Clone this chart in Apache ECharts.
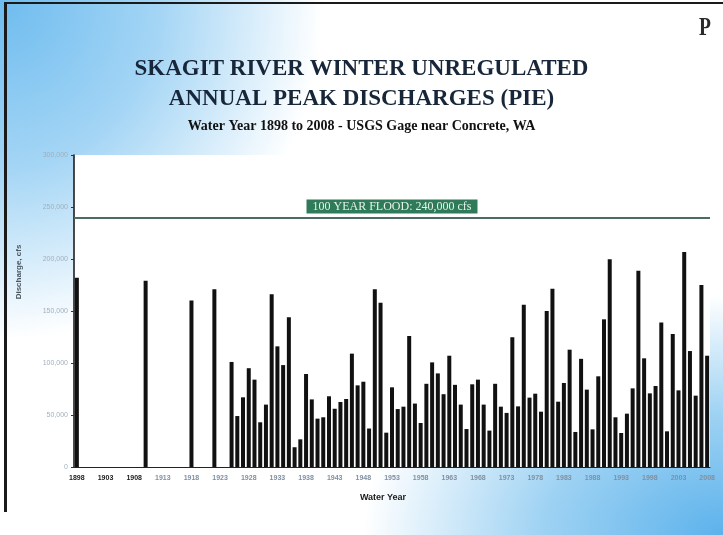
<!DOCTYPE html>
<html>
<head>
<meta charset="utf-8">
<title>Skagit River Winter Unregulated Annual Peak Discharges</title>
<script src="https://cdn.jsdelivr.net/npm/echarts@6/dist/echarts.min.js"></script>
<style>
  html, body { margin: 0; padding: 0; }
  body {
    width: 723px; height: 535px; overflow: hidden; position: relative;
    background:
      radial-gradient(ellipse 380px 400px at 0 0, #6ebcef 0%, #a4d5f5 42%, rgba(255,255,255,0) 85%),
      radial-gradient(ellipse 360px 240px at 100% 100%, #5cb2ec 0%, #9ed2f3 50%, rgba(255,255,255,0) 100%),
      #ffffff;
  }
  #chart { width: 723px; height: 535px; }
  .frame {
    position: absolute; left: 4px; top: 2px; width: 719px; height: 508px;
    border-left: 3px solid #1a1a1a; border-top: 2px solid #1a1a1a;
    pointer-events: none;
  }
</style>
</head>
<body>
<div id="chart"></div>
<div class="frame"></div>
<script>
// 历年 water year 1898-2008
const firstYear = 1898
const lastYear = 2008

// 早期历史洪水 (historic floods)
const historicYears = [1898, 1910, 1918, 1922]
const historicPeaks = [182000, 179000, 160000, 171000]

// 1925-2008 连续记录 (cfs)
const recordStart = 1925
const recordPeaks = [
  101000, 49000, 67000, 95000, 84000, 43000, 60000, 166000, 116000, 98000,   // 1925-1934
  144000, 19000, 26600, 89400, 65000, 46500, 47800, 68000, 56000, 62500,     // 1935-1944
  65400, 109000, 78500, 82000, 37000, 171000, 158000, 33000, 76600, 55700,   // 1945-1954
  58000, 126000, 61000, 42300, 80000, 100600, 90000, 70000, 107000, 79000,   // 1955-1964
  60000, 36500, 79500, 84000, 60000, 35000, 80000, 58000, 52000, 124700,     // 1965-1974
  58300, 156000, 66700, 70500, 53200, 150000, 171500, 62800, 80800, 112800,  // 1975-1984
  33700, 104000, 74400, 36200, 87200, 142000, 199700, 47800, 32700, 51300,   // 1985-1994
  75600, 188800, 104500, 70800, 77900, 139000, 34300, 128000, 73700, 206700, // 1995-2004
  111500, 68600, 175000, 107000                                              // 2005-2008
]

const floodLevel = 240000
const yTicks = [0, 50000, 100000, 150000, 200000, 250000, 300000]

const years = []
for (let y = firstYear; y <= lastYear; y++) years.push(String(y))

const peaks = years.map(() => null)
historicYears.forEach((y, i) => { peaks[y - firstYear] = historicPeaks[i] })
recordPeaks.forEach((v, i) => { peaks[recordStart + i - firstYear] = v })

const chart = echarts.init(document.getElementById('chart'))

const option = {
  backgroundColor: 'transparent',
  animation: false,
  grid: {
    left: 74, right: 13, top: 155, bottom: 68,
    show: true, backgroundColor: '#ffffff', borderWidth: 0
  },
  xAxis: {
    type: 'category',
    data: years,
    boundaryGap: true,
    axisLine: { lineStyle: { color: '#222', width: 1 } },
    axisTick: { interval: 0, length: 3, lineStyle: { color: '#333' } },
    axisLabel: {
      interval: 4,
      fontSize: 7,
      fontWeight: 'bold',
      fontFamily: 'Liberation Sans, Arial, sans-serif',
      margin: 8,
      color: (val) => (Number(val) < 1913 ? '#1a1a1a' : '#7f8fa2')
    }
  },
  yAxis: {
    type: 'value',
    min: yTicks[0],
    max: yTicks[yTicks.length - 1],
    interval: yTicks[1] - yTicks[0],
    axisLine: { show: true, lineStyle: { color: '#111', width: 1.5 } },
    axisTick: { show: true, length: 3, lineStyle: { color: '#333' } },
    splitLine: { show: false },
    axisLabel: {
      fontSize: 7,
      fontFamily: 'Liberation Sans, Arial, sans-serif',
      color: '#a2afbe',
      margin: 6,
      formatter: (v) => (v === 0 ? '0' : v.toLocaleString('en-US'))
    }
  },
  graphic: [
    {
      type: 'text', left: 'center', top: 58,
      style: {
        text: 'SKAGIT RIVER WINTER UNREGULATED',
        font: 'bold 23px "Liberation Serif", "Times New Roman", serif',
        fill: '#18263a'
      }
    },
    {
      type: 'text', left: 'center', top: 88,
      style: {
        text: 'ANNUAL PEAK DISCHARGES (PIE)',
        font: 'bold 23px "Liberation Serif", "Times New Roman", serif',
        fill: '#18263a'
      }
    },
    {
      type: 'text', left: 'center', top: 119,
      style: {
        text: 'Water Year 1898 to 2008 - USGS Gage near Concrete, WA',
        font: 'bold 14px "Liberation Serif", "Times New Roman", serif',
        fill: '#111'
      }
    },
    {
      type: 'text', left: 699, top: 15, scaleX: 0.75,
      style: {
        text: 'P',
        font: 'bold 26px "Liberation Serif", serif',
        fill: '#2a2a2a'
      }
    },
    {
      type: 'text', x: 19, y: 272, rotation: Math.PI / 2,
      style: {
        text: 'Discharge, cfs',
        font: 'bold 8px "Liberation Sans", Arial, sans-serif',
        fill: '#4a5560',
        align: 'center',
        verticalAlign: 'middle'
      }
    },
    {
      type: 'text', x: 383, y: 498,
      style: {
        text: 'Water Year',
        font: 'bold 9px "Liberation Sans", Arial, sans-serif',
        fill: '#1a1a1a',
        align: 'center',
        verticalAlign: 'middle'
      }
    }
  ],
  series: [
    {
      name: 'Annual Peak',
      type: 'bar',
      data: peaks,
      barWidth: 4,
      itemStyle: { color: '#111' },
      markLine: {
        silent: true,
        symbol: 'none',
        data: [{ yAxis: floodLevel }],
        lineStyle: { color: '#4d6b60', width: 2, type: 'solid' },
        label: {
          show: true,
          position: 'insideMiddleTop',
          formatter: '100 YEAR FLOOD: 240,000 cfs',
          fontFamily: '"Liberation Serif", "Times New Roman", serif',
          fontSize: 12,
          color: '#e6f3ea',
          backgroundColor: '#2f7a58',
          padding: [1, 6],
          distance: 4
        }
      }
    }
  ]
}

chart.setOption(option)
</script>
</body>
</html>
